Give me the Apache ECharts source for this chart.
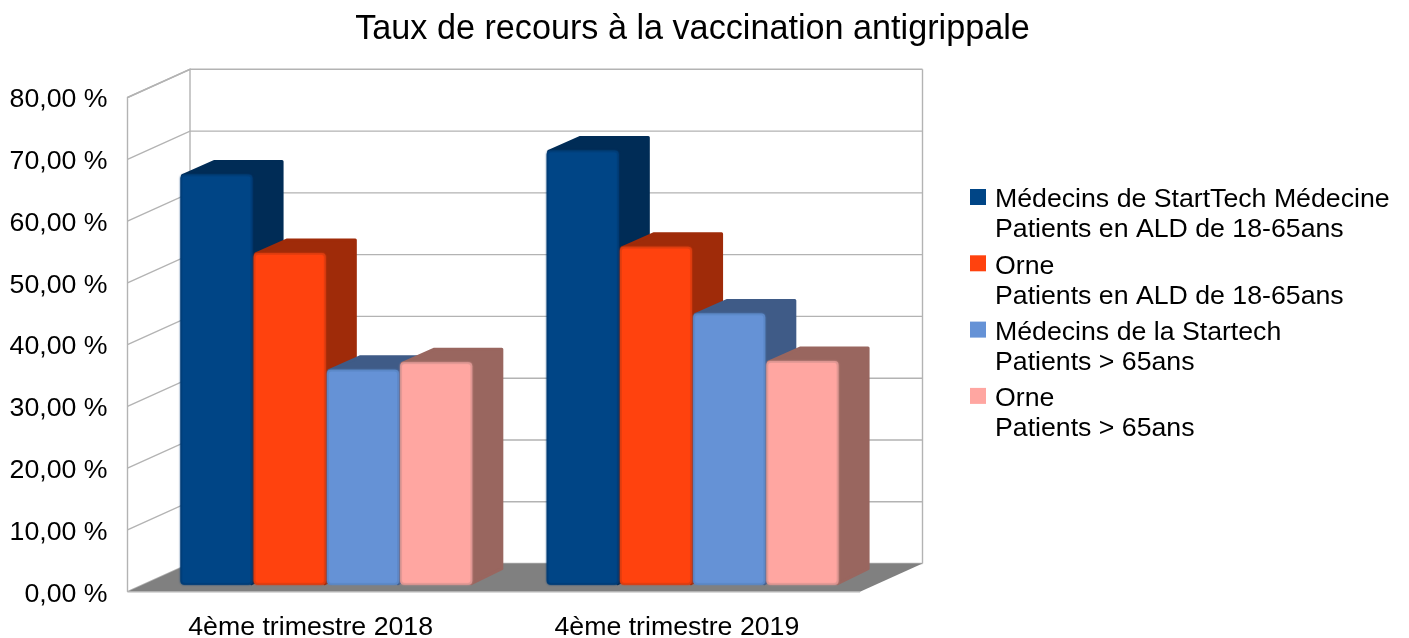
<!DOCTYPE html>
<html>
<head>
<meta charset="utf-8">
<style>html,body{margin:0;padding:0;background:#fff}#c{width:1409px;height:638px}</style>
<script src="https://cdn.jsdelivr.net/npm/echarts@6/dist/echarts.min.js"></script>
</head>
<body>
<div id="c"></div>
<script>
var chartTitle = 'Taux de recours à la vaccination antigrippale';
var categories = ['4ème trimestre 2018', '4ème trimestre 2019'];
var yTicks = [0, 10, 20, 30, 40, 50, 60, 70, 80];
var seriesNames = [
  'Médecins de StartTech Médecine\nPatients en ALD de 18-65ans',
  'Orne\nPatients en ALD de 18-65ans',
  'Médecins de la Startech\nPatients > 65ans',
  'Orne\nPatients > 65ans'
];
var medecinsAld = [66.4, 70.3];
var orneAld = [53.7, 54.7];
var medecinsOver65 = [34.8, 43.9];
var orneOver65 = [36.0, 36.2];
var seriesValues = [medecinsAld, orneAld, medecinsOver65, orneOver65];
var faceColors = ['#004586', '#ff420e', '#6592d6', '#ffa6a1'];
var edgeColors = ['#003c75', '#d83c10', '#5a86c4', '#d99490'];
var sideColors = ['#002c56', '#9f2b09', '#3f5b87', '#99665f'];

var FONT = '"Liberation Sans", Arial, sans-serif';
var WALL_DX = 62.5, WALL_DY = 28.2;
var BAR_DX = 30.6, BAR_DY = 16, BASE_LIFT = 7;
var GROUP_INSET = 0.1445, BAR_SHARE = 0.2;

function renderWall(params, api) {
  var cs = params.coordSys;
  var y = api.coord([0, api.value(0)])[1];
  var x0 = cs.x, x1 = cs.x + cs.width;
  var line = {stroke: '#b3b3b3', lineWidth: 1.4};
  var children = [];
  children.push({type: 'polyline', shape: {points: [[x0, y], [x0 + WALL_DX, y - WALL_DY], [x1 + WALL_DX, y - WALL_DY]]}, style: {fill: null, stroke: line.stroke, lineWidth: line.lineWidth}});
  if (api.value(0) === 0) {
    var top = cs.y;
    children.push({type: 'polyline', shape: {points: [[x0, y], [x0, top], [x0 + WALL_DX, top - WALL_DY], [x0 + WALL_DX, y - WALL_DY]]}, style: {fill: null, stroke: line.stroke, lineWidth: line.lineWidth}});
    children.push({type: 'line', shape: {x1: x1 + WALL_DX, y1: top - WALL_DY, x2: x1 + WALL_DX, y2: y - WALL_DY}, style: {stroke: line.stroke, lineWidth: line.lineWidth}});
    children.push({type: 'polygon', z2: 5, shape: {points: [[x0, y], [x1, y], [x1 + WALL_DX, y - WALL_DY], [x0 + WALL_DX, y - WALL_DY]]}, style: {fill: '#808080'}});
    children.push({type: 'line', z2: 5, shape: {x1: x0, y1: y, x2: x1, y2: y}, style: {stroke: line.stroke, lineWidth: line.lineWidth}});
  }
  return {type: 'group', children: children};
}

function makeBarRenderer(si) {
  return function (params, api) {
    var idx = api.value(0);
    var band = api.size([1, 0])[0];
    var cx = api.coord([idx, 0])[0];
    var left = cx - band / 2 + band * GROUP_INSET + si * band * BAR_SHARE;
    var w = band * BAR_SHARE - 1.2;
    var top = api.coord([idx, api.value(1)])[1] - BASE_LIFT;
    var bot = api.coord([idx, 0])[1] - BASE_LIFT;
    var right = left + w;
    return {type: 'group', children: [
      {type: 'polygon', shape: {points: [
        [left + 2, top + 1], [left + BAR_DX + 3, top - BAR_DY + 3], [right + BAR_DX - 1, top - BAR_DY + 3],
        [right + BAR_DX - 1, bot - BAR_DY], [right - 1, bot - 1]
      ]}, style: {fill: sideColors[si], stroke: sideColors[si], lineWidth: 3, lineJoin: 'round'}},
      {type: 'rect', shape: {x: left, y: top, width: w, height: bot - top, r: 4}, style: {fill: edgeColors[si], shadowBlur: 2, shadowColor: edgeColors[si]}},
      {type: 'rect', shape: {x: left + 2, y: top + 2, width: w - 4, height: bot - top - 4, r: 2}, style: {fill: faceColors[si], shadowBlur: 3, shadowColor: faceColors[si]}}
    ]};
  };
}

var series = [{
  type: 'custom', name: 'walls', silent: true, z: 1,
  renderItem: renderWall,
  encode: {y: 0},
  data: yTicks.map(function (t) { return [t]; })
}];
seriesNames.forEach(function (name, si) {
  series.push({
    type: 'custom', name: name, z: 2 + si,
    itemStyle: {color: faceColors[si]},
    renderItem: makeBarRenderer(si),
    encode: {x: 0, y: 1},
    data: seriesValues[si].map(function (v, i) { return [i, v]; })
  });
});

var chart = echarts.init(document.getElementById('c'), null, {renderer: 'canvas'});
chart.setOption({
  animation: false,
  backgroundColor: '#fff',
  title: {
    text: chartTitle, left: 687.5, top: 8, textAlign: 'center',
    textStyle: {fontFamily: FONT, fontSize: 34.2, fontWeight: 'normal', color: '#000'}
  },
  grid: {left: 127.5, right: 549, top: 97.5, bottom: 46.3, containLabel: false, outerBoundsMode: 'none'},
  xAxis: {
    type: 'category', data: categories,
    axisLine: {show: false}, axisTick: {show: false}, splitLine: {show: false},
    axisLabel: {fontFamily: FONT, fontSize: 26.7, color: '#000', margin: 22, interval: 0}
  },
  yAxis: {
    type: 'value', min: 0, max: 80, interval: 10,
    axisLine: {show: false}, axisTick: {show: false}, splitLine: {show: false},
    axisLabel: {
      fontFamily: FONT, fontSize: 26.7, color: '#000', margin: 20,
      formatter: function (v) { return '{a|' + v.toFixed(2).replace('.', ',') + ' %}'; },
      rich: {a: {fontFamily: FONT, fontSize: 26.7, color: '#000', padding: [5, 0, 0, 0]}}
    }
  },
  legend: {
    data: seriesNames, orient: 'vertical', left: 965, top: 180,
    itemWidth: 16, itemHeight: 60, itemGap: 6.3,
    icon: 'path://M0 0L0 0M0 4H16V20H0ZM16 60L16 60',
    selectedMode: false,
    textStyle: {fontFamily: FONT, fontSize: 26.7, color: '#000', lineHeight: 30, padding: [0, 0, 0, 4]}
  },
  series: series
});
</script>
</body>
</html>
